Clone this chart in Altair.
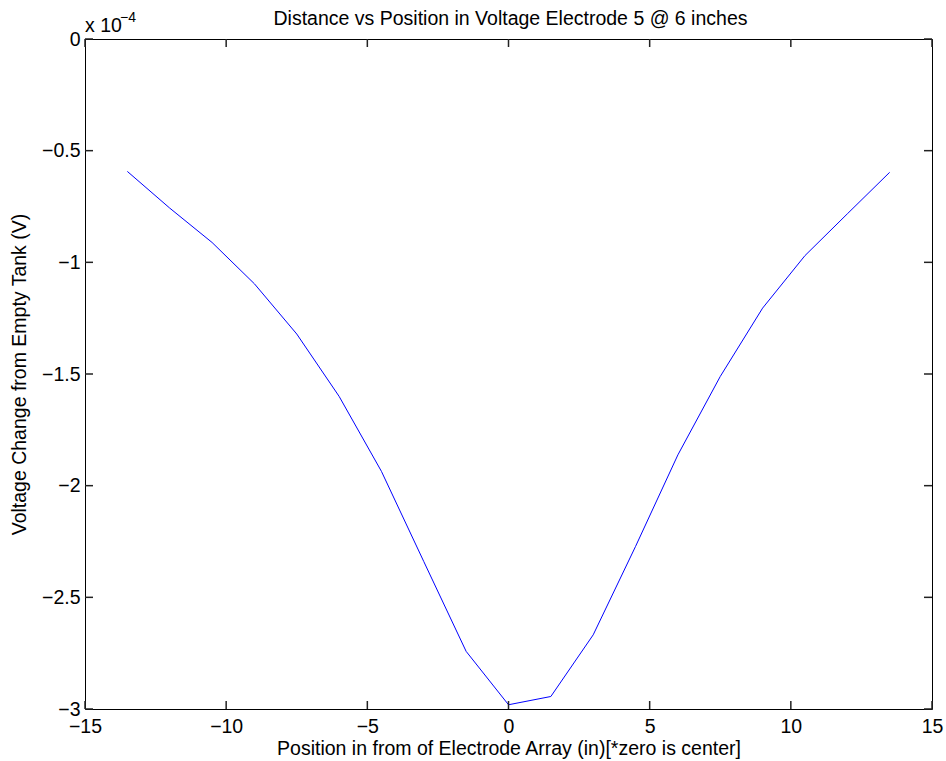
import altair as alt
import pandas as pd

# data (voltage in units of 1e-4 V)
positions = [-13.5, -12, -10.5, -9, -7.5, -6, -4.5, -3, -1.5, 0, 1.5, 3, 4.5, 6, 7.5, 9, 10.5, 12, 13.5]
voltage_e4 = [-0.593, -0.757, -0.911, -1.096, -1.321, -1.600, -1.936, -2.34, -2.742, -2.981,
              -2.944, -2.668, -2.272, -1.862, -1.511, -1.205, -0.970, -0.783, -0.597]
x_ticks = [-15, -10, -5, 0, 5, 10, 15]
y_ticks = [0, -0.5, -1, -1.5, -2, -2.5, -3]

TITLE = "Distance vs Position in Voltage Electrode 5 @ 6 inches"
XLABEL = "Position in from of Electrode Array (in)[*zero is center]"
YLABEL = "Voltage Change from Empty Tank (V)"

W, H = 847, 670
FONT = "Liberation Sans"
FS = 19.5
TL = 8

df = pd.DataFrame({"x": positions, "y": voltage_e4})
xs = alt.Scale(domain=[-15, 15], nice=False, zero=False)
ys = alt.Scale(domain=[-3, 0], nice=False, zero=False)
minus = "replace(format(datum.value, '~g'), '-', '\u2212')"
xaxis = alt.Axis(values=x_ticks, title=XLABEL, labelExpr=minus, labelFlush=False)
yaxis = alt.Axis(values=y_ticks, title=YLABEL, labelExpr=minus, labelFlush=False)

line = alt.Chart(df).mark_line(color="#0000ff", strokeWidth=1).encode(
    x=alt.X("x:Q", scale=xs, axis=xaxis),
    y=alt.Y("y:Q", scale=ys, axis=yaxis),
)

xt = pd.DataFrame({"tx": x_ticks})
yt = pd.DataFrame({"ty": y_ticks})
bx = alt.X("tx:Q", scale=xs, axis=None)
by = alt.Y("ty:Q", scale=ys, axis=None)
tick_style = dict(color="#222222", strokeWidth=1.5)
t_bottom = alt.Chart(xt).mark_rule(**tick_style).encode(x=bx, y=alt.value(H), y2=alt.value(H - TL))
t_top = alt.Chart(xt).mark_rule(**tick_style).encode(x=bx, y=alt.value(0), y2=alt.value(TL))
t_left = alt.Chart(yt).mark_rule(**tick_style).encode(y=by, x=alt.value(0), x2=alt.value(TL))
t_right = alt.Chart(yt).mark_rule(**tick_style).encode(y=by, x=alt.value(W), x2=alt.value(W - TL))

one = alt.Data(values=[{"a": 1}])
title = alt.Chart(one).mark_text(text=TITLE, font=FONT, fontSize=FS, color="black",
                                 align="center", baseline="alphabetic").encode(
    x=alt.value(W / 2 + 2), y=alt.value(-14))
x10 = alt.Chart(one).mark_text(text="x 10", font=FONT, fontSize=FS, color="black",
                               align="left", baseline="alphabetic").encode(
    x=alt.value(0), y=alt.value(-7))
exp = alt.Chart(one).mark_text(text="\u22124", font=FONT, fontSize=14, color="black",
                               align="left", baseline="alphabetic").encode(
    x=alt.value(35), y=alt.value(-17))

chart = alt.layer(line, t_bottom, t_top, t_left, t_right, title, x10, exp).resolve_axis(
    x="independent", y="independent"
).properties(
    width=W, height=H,
    autosize=alt.AutoSizeParams(type="none"),
    padding={"left": 85, "top": 39, "right": 14, "bottom": 52},
    background="white",
).configure_view(stroke="black", strokeWidth=1).configure_axis(
    grid=False, domain=False, ticks=False,
    labelFont=FONT, labelFontSize=FS, labelColor="black",
    titleFont=FONT, titleFontSize=FS, titleFontWeight="normal", titleColor="black",
).configure_axisX(labelPadding=8, titlePadding=4).configure_axisY(labelPadding=5, titlePadding=12)

chart.save("out.html", embed_options={"renderer": "svg", "actions": False})
